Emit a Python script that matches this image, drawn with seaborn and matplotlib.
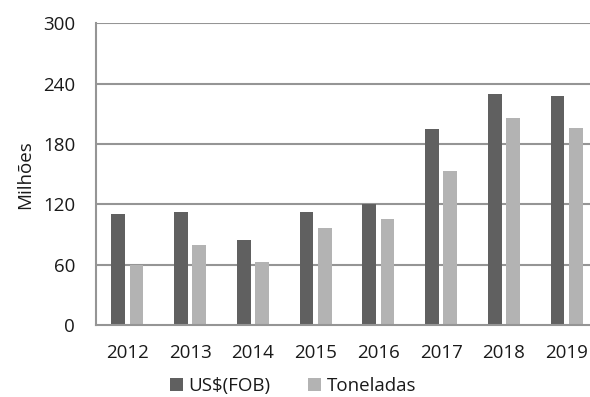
import matplotlib
matplotlib.use("Agg")
import matplotlib.pyplot as plt
import seaborn as sns
import pandas as pd

years = ["2012", "2013", "2014", "2015", "2016", "2017", "2018", "2019"]
usd_fob = [110, 112, 85, 112, 120, 195, 230, 228]
toneladas = [60, 80, 63, 96, 105, 153, 206, 196]
series_names = ["US$(FOB)", "Toneladas"]
y_ticks = [0, 60, 120, 180, 240, 300]

df = pd.DataFrame({
    "Ano": years * 2,
    "Valor": usd_fob + toneladas,
    "Serie": [series_names[0]] * len(years) + [series_names[1]] * len(years),
})

sns.set_theme(style="white")
plt.rcParams["font.family"] = ["Open Sans", "DejaVu Sans"]

fig = plt.figure(figsize=(5.9, 3.97), dpi=100)
ax = fig.add_axes([96 / 590, 72 / 397, 494 / 590, 301.7 / 397])

grid_color = "#959595"
for t in y_ticks[1:]:
    ax.axhline(t, color=grid_color, lw=1.5, zorder=0)

sns.barplot(
    data=df, x="Ano", y="Valor", hue="Serie", ax=ax,
    palette=["#606060", "#b3b3b3"], width=0.58, gap=0.24,
    saturation=1, edgecolor="none", zorder=2,
)

fs = 13.5
ax.set_ylim(0, 300)
ax.set_xlim(-0.5, 7.373)
ax.set_yticks(y_ticks)
ax.set_yticklabels([str(t) for t in y_ticks])
ax.tick_params(axis="both", length=0, labelsize=fs, colors="#1a1a1a")
ax.tick_params(axis="y", pad=15)
ax.tick_params(axis="x", pad=14)
ax.set_xlabel("")
ax.set_ylabel("Milhões", fontsize=fs, color="#1a1a1a", labelpad=6)

for side in ["top", "right"]:
    ax.spines[side].set_visible(False)
for side in ["left", "bottom"]:
    ax.spines[side].set_color(grid_color)
    ax.spines[side].set_linewidth(1.5)

handles, labels = ax.get_legend_handles_labels()
ax.legend(
    handles, labels, loc="center", bbox_to_anchor=(293 / 590, 11 / 397),
    bbox_transform=fig.transFigure, ncol=2, frameon=False,
    fontsize=fs, handlelength=0.7, handleheight=0.7,
    handletextpad=0.3, columnspacing=2.0, labelcolor="#1a1a1a",
)

fig.savefig("out.png", dpi=100)
